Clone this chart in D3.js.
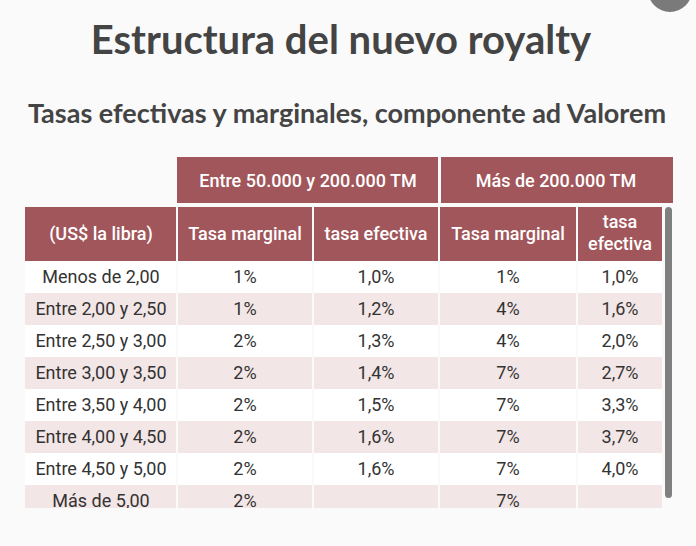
<!DOCTYPE html>
<html>
<head>
<meta charset="utf-8">
<script src="https://cdn.jsdelivr.net/npm/d3@7"></script>
<style>
  body { margin: 0; background: #fafafa; }
  svg { display: block; }
</style>
</head>
<body>
<div id="chart"></div>
<script>
// table content
const groups = ["Entre 50.000 y 200.000 TM", "Más de 200.000 TM"];
const columns = ["(US$ la libra)", "Tasa marginal", "tasa efectiva", "Tasa marginal", "tasa efectiva"];
const tramos = ["Menos de 2,00", "Entre 2,00 y 2,50", "Entre 2,50 y 3,00", "Entre 3,00 y 3,50",
  "Entre 3,50 y 4,00", "Entre 4,00 y 4,50", "Entre 4,50 y 5,00", "Más de 5,00"];
const marginalA = ["1%", "1%", "2%", "2%", "2%", "2%", "2%", "2%"];
const efectivaA = ["1,0%", "1,2%", "1,3%", "1,4%", "1,5%", "1,6%", "1,6%", ""];
const marginalB = ["1%", "4%", "4%", "7%", "7%", "7%", "7%", "7%"];
const efectivaB = ["1,0%", "1,6%", "2,0%", "2,7%", "3,3%", "3,7%", "4,0%", ""];

const W = 696, H = 546;
const headerColor = "#a0565a";
const pink = "#f3e6e6";

const svg = d3.select("#chart").append("svg")
  .attr("width", W)
  .attr("height", H);

svg.append("rect").attr("width", W).attr("height", H).attr("fill", "#fafafa");

// grey circle peeking in at the top right
svg.append("circle")
  .attr("cx", 670).attr("cy", -10).attr("r", 22)
  .attr("fill", "#7a7a7a");

svg.append("text")
  .attr("x", 341).attr("y", 54)
  .attr("text-anchor", "middle")
  .style("font-family", "Lato")
  .style("font-weight", "bold")
  .style("font-size", "40px")
  .attr("fill", "#444")
  .text("Estructura del nuevo royalty");

svg.append("text")
  .attr("x", 347).attr("y", 123)
  .attr("text-anchor", "middle")
  .style("font-family", "Lato")
  .style("font-weight", "bold")
  .style("font-size", "27px")
  .attr("fill", "#444")
  .text("Tasas efectivas y marginales, componente ad Valorem");

// column edges
const edges = [25, 177, 313, 439, 577, 663];
const colX = i => edges[i];
const colW = i => edges[i + 1] - edges[i];

// group header row
const groupEdges = [[177, 439], [439, 673]];
const gh = svg.append("g");
gh.selectAll("rect").data(groups).join("rect")
  .attr("x", (d, i) => groupEdges[i][0] + (i ? 2 : 0))
  .attr("y", 157)
  .attr("width", (d, i) => groupEdges[i][1] - groupEdges[i][0] - (i ? 2 : 1))
  .attr("height", 46)
  .attr("fill", headerColor);
gh.selectAll("text").data(groups).join("text")
  .attr("x", (d, i) => (groupEdges[i][0] + groupEdges[i][1]) / 2)
  .attr("y", 187)
  .attr("text-anchor", "middle")
  .style("font-family", "Roboto")
  .style("font-weight", "500")
  .style("font-size", "18px")
  .attr("fill", "#fff")
  .text(d => d);

// scrolling body, clipped
svg.append("clipPath").attr("id", "clip")
  .append("rect").attr("x", 0).attr("y", 205).attr("width", W).attr("height", 303);

const body = svg.append("g").attr("clip-path", "url(#clip)");

// column header row
const hdr = body.append("g");
hdr.selectAll("rect").data(columns).join("rect")
  .attr("x", (d, i) => colX(i) + (i ? 1 : 0))
  .attr("y", 207)
  .attr("width", (d, i) => colW(i) - (i ? 2 : 1))
  .attr("height", 54)
  .attr("fill", headerColor);

hdr.selectAll("text").data(columns).join("text")
  .attr("x", (d, i) => colX(i) + colW(i) / 2)
  .attr("text-anchor", "middle")
  .style("font-family", "Roboto")
  .style("font-weight", "500")
  .style("font-size", "18px")
  .attr("fill", "#fff")
  .each(function(d, i) {
    const t = d3.select(this);
    if (i === 4) {
      t.append("tspan").attr("x", colX(i) + colW(i) / 2).attr("y", 228).text("tasa");
      t.append("tspan").attr("x", colX(i) + colW(i) / 2).attr("y", 250).text("efectiva");
    } else {
      t.attr("y", 240).text(d);
    }
  });

// data rows
const y = d3.scaleBand()
  .domain(tramos)
  .range([261, 261 + 32 * tramos.length]);

const rows = tramos.map((t, i) => [t, marginalA[i], efectivaA[i], marginalB[i], efectivaB[i]]);

const rowG = body.selectAll(".row").data(rows).join("g")
  .attr("class", "row")
  .attr("transform", d => `translate(0,${y(d[0])})`);

rowG.selectAll("rect").data((d, r) => d.map(v => ({ v, r }))).join("rect")
  .attr("x", (d, i) => colX(i) + (i ? 1 : 0))
  .attr("y", 0)
  .attr("width", (d, i) => colW(i) - (i ? 2 : 1))
  .attr("height", y.bandwidth())
  .attr("fill", d => d.r % 2 ? pink : "#fff");

rowG.selectAll("text").data(d => d).join("text")
  .attr("x", (d, i) => colX(i) + colW(i) / 2)
  .attr("y", y.bandwidth() / 2 + 6)
  .attr("text-anchor", "middle")
  .style("font-family", "Roboto")
  .style("font-size", "18px")
  .attr("fill", "#333")
  .text(d => d);

// scrollbar
svg.append("rect")
  .attr("x", 665).attr("y", 207)
  .attr("width", 7).attr("height", 291)
  .attr("rx", 3.5)
  .attr("fill", "#808080");
</script>
</body>
</html>
